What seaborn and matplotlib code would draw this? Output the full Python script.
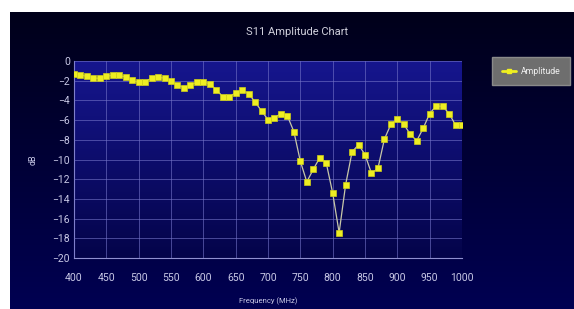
import matplotlib
matplotlib.use("Agg")
import matplotlib.pyplot as plt
from matplotlib.colors import LinearSegmentedColormap
from matplotlib.lines import Line2D
from matplotlib.ticker import MultipleLocator
import numpy as np
import seaborn as sns

# data (dB vs MHz, 10 MHz steps)
freq_mhz = list(range(400, 1001, 10))
amplitude_db = [-1.3, -1.4, -1.57, -1.73, -1.77, -1.57, -1.43, -1.47, -1.63, -1.97,
                -2.17, -2.1, -1.73, -1.67, -1.73, -2.07, -2.4, -2.73, -2.43, -2.17,
                -2.1, -2.33, -2.9, -3.63, -3.63, -3.23, -2.97, -3.3, -4.17, -5.07,
                -5.95, -5.77, -5.33, -5.57, -7.17, -10.17, -12.27, -11.0, -9.83, -10.33,
                -13.4, -17.43, -12.57, -9.23, -8.5, -9.5, -11.4, -10.9, -7.93, -6.43,
                -5.9, -6.43, -7.43, -8.1, -6.83, -5.33, -4.57, -4.6, -5.33, -6.5, -6.5]
x_ticks = list(range(400, 1001, 50))
y_ticks = list(range(-20, 1, 2))

sns.set_style("dark")
plt.rcParams['font.family'] = ['Roboto', 'DejaVu Sans']

W, H = 574, 309
fig = plt.figure(figsize=(W / 100, H / 100), dpi=100)
fig.patch.set_facecolor("white")

# dark navy backdrop with vertical gradient (white strip top and left)
bg = fig.add_axes([10 / W, 0, 1 - 10 / W, 1 - 12 / H])
bg_cmap = LinearSegmentedColormap.from_list("bg", ["#00001a", "#000052"])
bg.imshow(np.linspace(0, 1, 256).reshape(-1, 1), cmap=bg_cmap, aspect="auto",
          extent=(0, 1, 0, 1))
bg.set_axis_off()

ax = fig.add_axes([74 / W, 1 - 258 / H, 388 / W, 197 / H])
ax.set_zorder(2)
plot_cmap = LinearSegmentedColormap.from_list("pl", ["#16168e", "#04044a"])
ax.imshow(np.linspace(0, 1, 256).reshape(-1, 1), cmap=plot_cmap, aspect="auto",
          extent=(400, 1000, -20, 0), zorder=0)

sns.lineplot(x=freq_mhz, y=amplitude_db, ax=ax, color="#c8c8a8", linewidth=0.9,
             marker="s", markersize=3.8, markerfacecolor="#eeee22",
             markeredgecolor="#d0d018", markeredgewidth=0.5, zorder=3)

ax.set_xlim(400, 1000)
ax.set_ylim(-20, 0)
ax.set_xticks(x_ticks)
ax.set_yticks(y_ticks)
ax.yaxis.set_minor_locator(MultipleLocator(0.5))
ax.xaxis.set_minor_locator(MultipleLocator(10))
ax.grid(True, which="major", color="#7474c8", linewidth=0.6, alpha=0.7, zorder=1)
ax.set_axisbelow(False)
for s in ax.spines.values():
    s.set_visible(False)
ax.spines["left"].set_visible(True)
ax.spines["bottom"].set_visible(True)
ax.spines["left"].set_color("#9090d0")
ax.spines["bottom"].set_color("#9090d0")
ax.spines["left"].set_linewidth(0.8)
ax.spines["bottom"].set_linewidth(0.8)

ax.tick_params(axis="both", which="major", colors="#c8c8e6", labelsize=7.5,
               length=4, width=0.8, direction="inout")
ax.tick_params(axis="both", which="minor", colors="#9090c8", length=2,
               width=0.5, direction="in")
ax.tick_params(axis="x", pad=9)
ax.tick_params(axis="y", pad=1)

ax.set_xlabel("Frequency (MHz)", color="#c8c8e6", fontsize=5.5)
ax.xaxis.set_label_coords(0.5, -0.198)
ax.set_ylabel("dB", color="#c8c8e6", fontsize=6.5)
ax.yaxis.set_label_coords(-0.095, 0.5)

fig.text(297 / W, 1 - 32 / H, "S11 Amplitude Chart", color="#d0d0dc",
         fontsize=8, ha="center", va="center")

handle = Line2D([], [], color="#f0f020", linewidth=2, marker="s", markersize=2.5,
                markerfacecolor="#f0f020", markeredgecolor="#f0f020")
leg = fig.legend([handle], ["Amplitude"], loc="upper left",
                 bbox_to_anchor=(492 / W, 1 - 57 / H), fontsize=6.3,
                 frameon=True, fancybox=False, handlelength=1.6,
                 borderpad=1.1, handletextpad=0.6, borderaxespad=0)
leg.get_frame().set_facecolor("#6e6e6e")
leg.get_frame().set_edgecolor("#8a8a8a")
leg.get_frame().set_alpha(1)
for t in leg.get_texts():
    t.set_color("#f0f0f0")

fig.savefig("out.png", dpi=100)
